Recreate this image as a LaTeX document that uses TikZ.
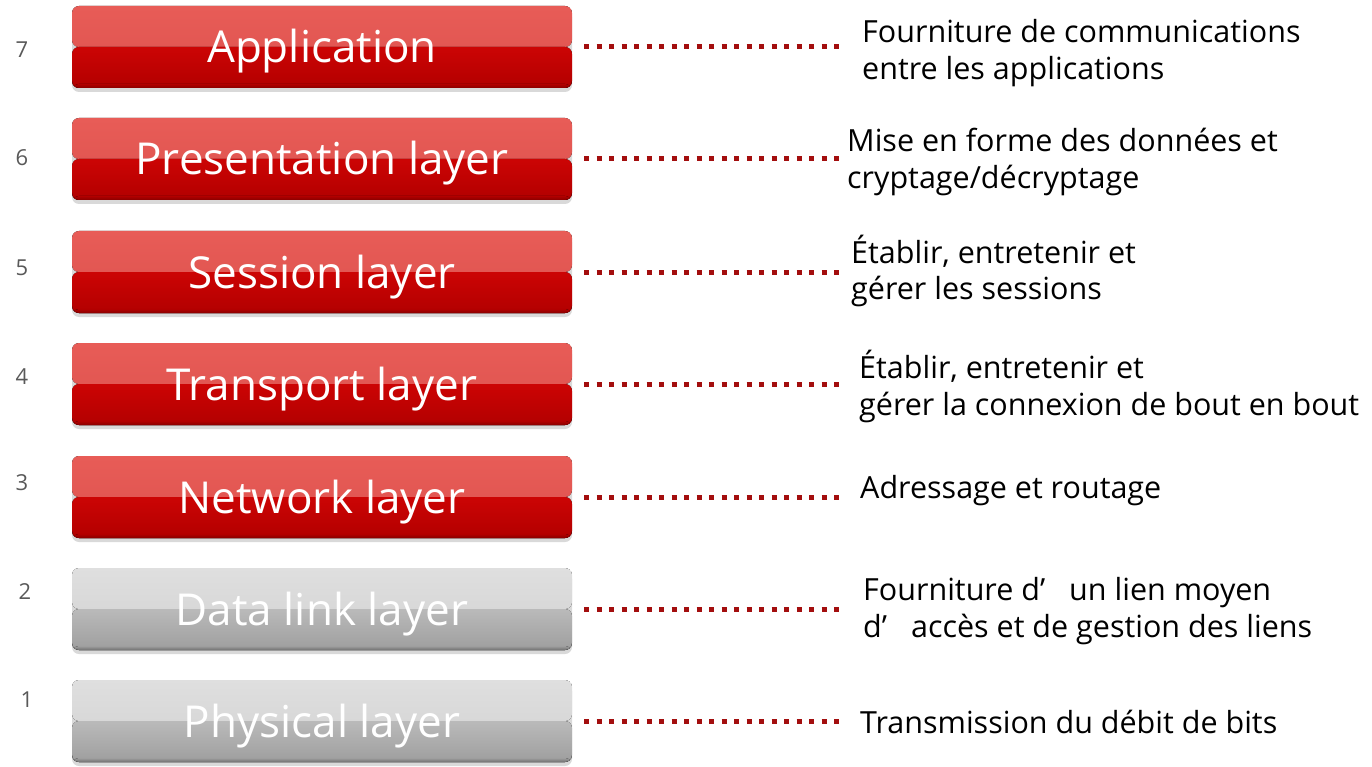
\documentclass[tikz,border=0pt]{standalone}
\usepackage{fontspec}
\setmainfont{Open Sans}
\usetikzlibrary{shadows}
\definecolor{rA}{HTML}{E85C57}
\definecolor{rB}{HTML}{DC524E}
\definecolor{rC}{HTML}{CC0404}
\definecolor{rD}{HTML}{B20000}
\definecolor{rE}{HTML}{880000}
\definecolor{gA}{HTML}{DFDFDF}
\definecolor{gB}{HTML}{D1D1D1}
\definecolor{gC}{HTML}{BABABA}
\definecolor{gD}{HTML}{9E9E9E}
\definecolor{gE}{HTML}{707070}
\definecolor{dotred}{HTML}{A30E0E}
\definecolor{numgray}{HTML}{595959}
\tikzset{
  layer/.style={rectangle, rounded corners=7pt, minimum width=500pt, minimum height=82pt,
    inner sep=0pt, text=white, font=\fontsize{44}{50}\selectfont, text height=42pt, text depth=10pt,
    drop shadow={shadow xshift=0pt, shadow yshift=-4pt, opacity=0.3}},
  redlayer/.style={layer, path picture={
    \fill[top color=rA, bottom color=rB] (path picture bounding box.north west) rectangle (path picture bounding box.east);
    \fill[top color=rC, bottom color=rD] (path picture bounding box.west) rectangle (path picture bounding box.south east);
    \fill[top color=rD, bottom color=rE] ([yshift=4pt]path picture bounding box.south west) rectangle (path picture bounding box.south east);
  }},
  graylayer/.style={layer, path picture={
    \fill[top color=gA, bottom color=gB] (path picture bounding box.north west) rectangle (path picture bounding box.east);
    \fill[top color=gC, bottom color=gD] (path picture bounding box.west) rectangle (path picture bounding box.south east);
    \fill[top color=gD, bottom color=gE] ([yshift=4pt]path picture bounding box.south west) rectangle (path picture bounding box.south east);
  }},
  num/.style={text=numgray, font=\fontsize{22}{24}\selectfont},
  desc/.style={anchor=west, align=left, text=black, font=\fontsize{30.5}{36.5}\selectfont, inner sep=0pt},
  dotline/.style={draw=dotred, line width=5pt, dash pattern=on 5pt off 7.5pt, shorten <=12pt}
}
\begin{document}
\begin{tikzpicture}[x=1pt,y=-1pt]
\useasboundingbox (0,0) rectangle (1372,767);

\node[redlayer]  (b7) at (322,47)  {Application};
\node[redlayer]  (b6) at (322,159) {Presentation layer};
\node[redlayer]  (b5) at (322,272) {Session layer};
\node[redlayer]  (b4) at (322,384) {Transport layer};
\node[redlayer]  (b3) at (322,497) {Network layer};
\node[graylayer] (b2) at (322,609) {Data link layer};
\node[graylayer] (b1) at (322,721) {Physical layer};

\node[num] (n7) at (22,50)  {7};
\node[num] (n6) at (22,158) {6};
\node[num] (n5) at (22,268) {5};
\node[num] (n4) at (22,377) {4};
\node[num] (n3) at (22,483) {3};
\node[num] (n2) at (25,592) {2};
\node[num] (n1) at (27,700) {1};

\node[desc] (d7) at (862,53) {Fourniture de communications\\entre les applications};
\node[desc] (d6) at (847,162) {Mise en forme des données et\\cryptage/décryptage};
\node[desc] (d5) at (851,271) {Établir, entretenir et\\gérer les sessions};
\node[desc] (d4) at (859,386.5) {Établir, entretenir et\\gérer la connexion de bout en bout};
\node[desc] (d3) at (860,491) {Adressage et routage};
\node[desc] (d2) at (863,611) {Fourniture d’\hspace{24pt}un lien moyen\\d’\hspace{24pt}accès et de gestion des liens};
\node[desc] (d1) at (860,722) {Transmission du débit de bits};

\coordinate (endx) at (842,0);
\draw[dotline] (b7.east) -- (b7.east -| endx);
\draw[dotline] (b6.east) -- (b6.east -| endx);
\draw[dotline] (b5.east) -- (b5.east -| endx);
\draw[dotline] (b4.east) -- (b4.east -| endx);
\draw[dotline] (b3.east) -- (b3.east -| endx);
\draw[dotline] (b2.east) -- (b2.east -| endx);
\draw[dotline] (b1.east) -- (b1.east -| endx);
\end{tikzpicture}
\end{document}
